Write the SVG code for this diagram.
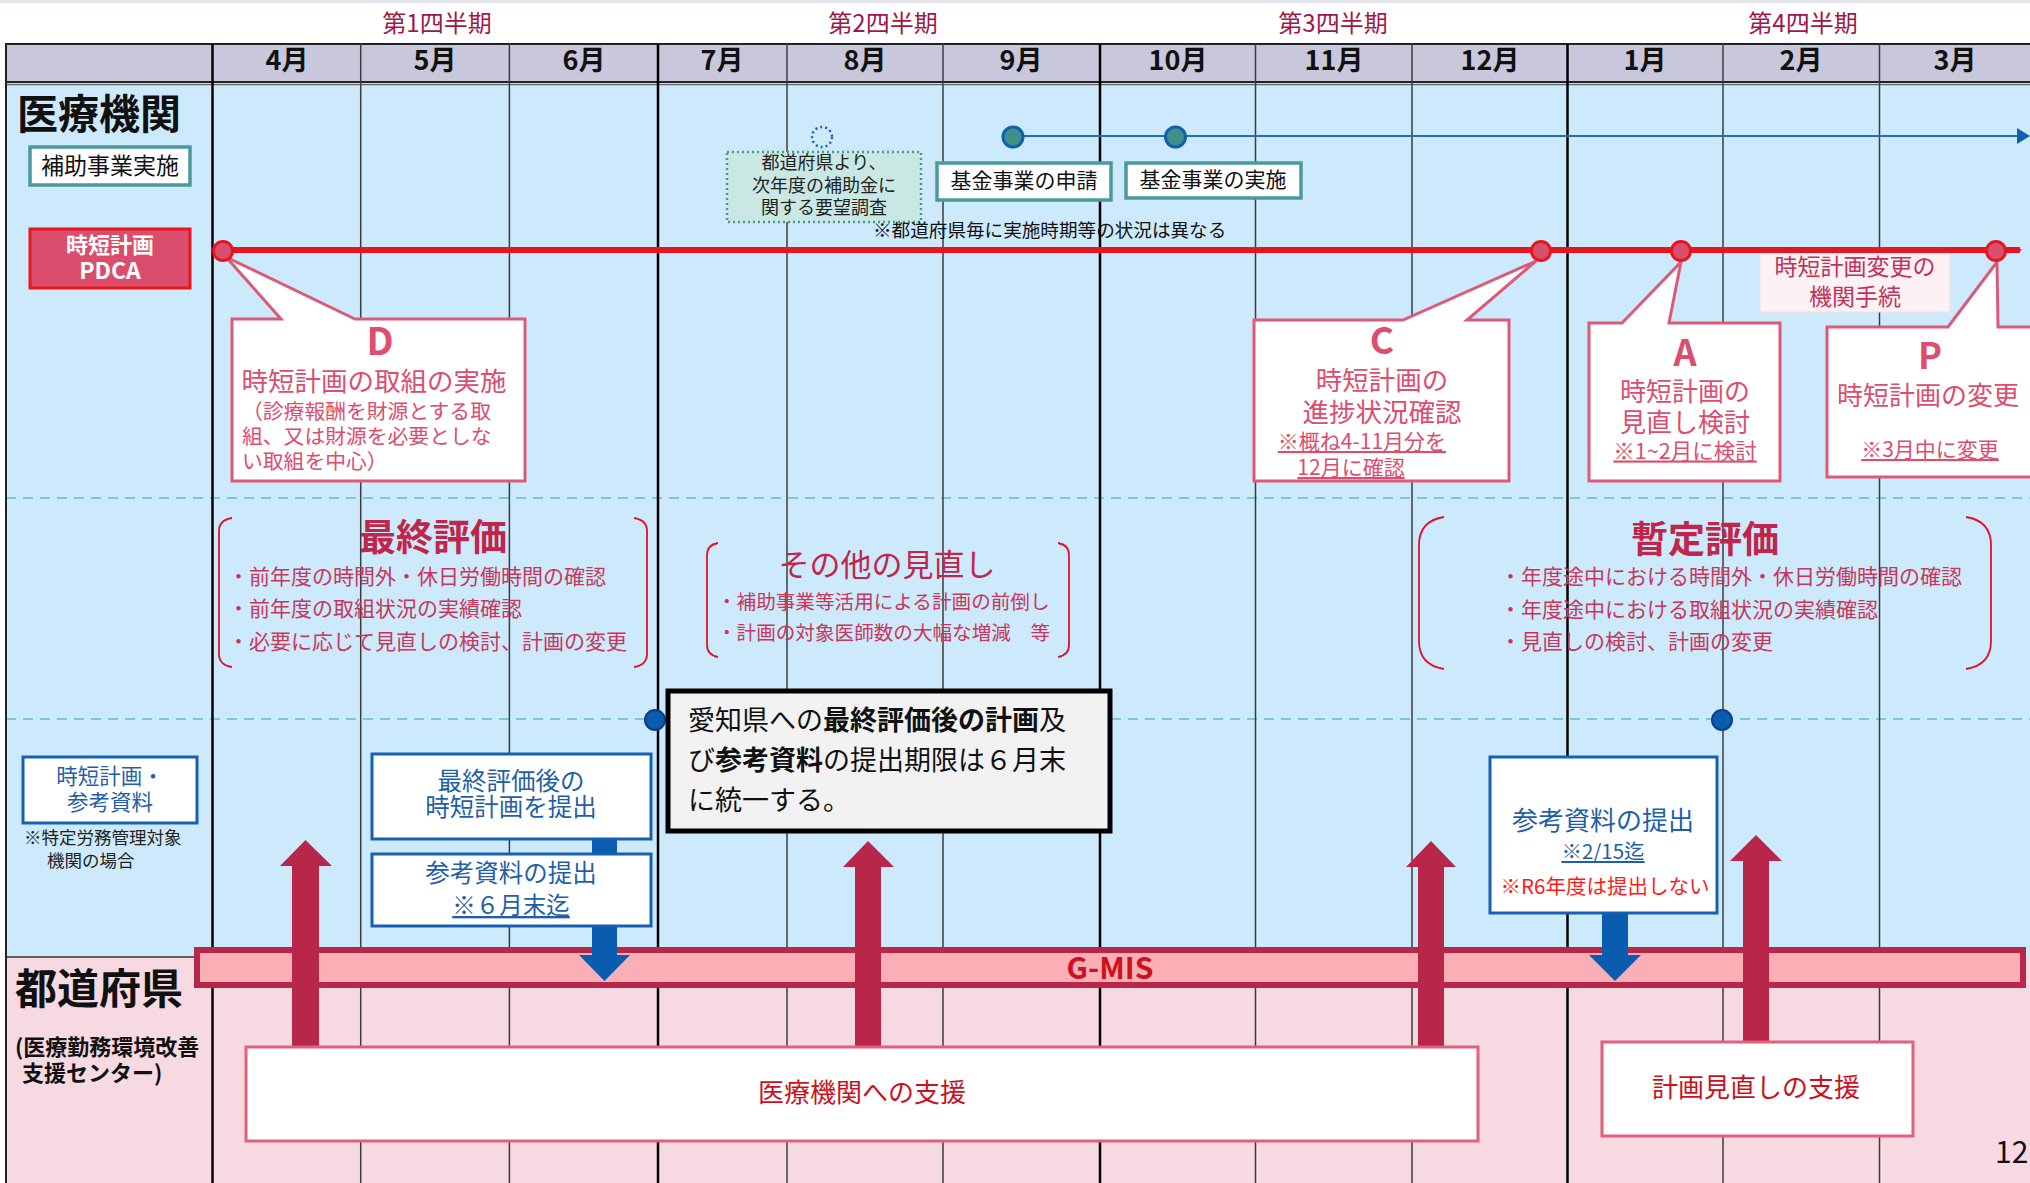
<svg xmlns="http://www.w3.org/2000/svg" width="2030" height="1183" viewBox="0 0 2030 1183">
<style>
text{font-family:"Noto Sans CJK JP","Noto Sans",sans-serif;dominant-baseline:central;transform:translateY(-2px)}
.q{font-size:24px;fill:#a0174a;text-anchor:middle}
.m{font-size:27px;font-weight:700;fill:#111;text-anchor:middle}
.vl{stroke:#3c3c3c;stroke-width:1.5}
.vq{stroke:#000;stroke-width:2.5}
.teal{fill:#fff;stroke:#4a9a9a;stroke-width:3.5}
.call{fill:#fff;stroke:#dc5a78;stroke-width:3}
.ct{fill:#dc4d6e;text-anchor:middle}
.ctb{fill:#dc4d6e;text-anchor:middle;font-weight:700}
.br{fill:none;stroke:#e0102a;stroke-width:1.8}
.bt{fill:#c0254a;font-weight:700;font-size:37px;text-anchor:middle}
.bl{fill:#c8365a;font-size:21px}
.bluebox{fill:#fff;stroke:#1560b0;stroke-width:3}
.bt2{fill:#1f5fa8;text-anchor:middle}
.sup{fill:#fff;stroke:#e0607e;stroke-width:3}
.supt{fill:#cc1020;font-size:26px;text-anchor:middle}
.red{fill:#b8264a}
.blu{fill:#0a5cb0}
.pc{fill:#d94f6e;stroke:#e8141e;stroke-width:3}
.dash{stroke:#7ccaca;stroke-width:2;stroke-dasharray:10 7}
</style>
<defs>
<marker id="ra" markerWidth="4" markerHeight="4" refX="2" refY="2" orient="auto" markerUnits="userSpaceOnUse" viewBox="0 0 4 4"><path d="M0,0 L4,2 L0,4 Z" fill="#e8141e"/></marker>
</defs>
<rect x="0" y="0" width="2030" height="1183" fill="#fff"/>
<rect x="0" y="0" width="2030" height="3" fill="#e4e4ee"/>
<g id="background">
<rect x="6" y="85" width="2030" height="872" fill="#cdeafc"/>
<rect x="6" y="957" width="2030" height="226" fill="#f7d9e1"/>
<line x1="6" y1="957" x2="212" y2="957" stroke="#333" stroke-width="1.5"/>
<line class="dash" x1="6" y1="498" x2="2030" y2="498"/>
<line class="dash" x1="6" y1="719" x2="2030" y2="719"/>
</g>
<g id="header">
<rect x="6" y="44" width="2030" height="38" fill="#c9c7dc" stroke="#222" stroke-width="2"/>
<line x1="6" y1="84.5" x2="2030" y2="84.5" stroke="#666" stroke-width="1.5"/>
<text class="q" x="437" y="23">第1四半期</text>
<text class="q" x="883" y="23">第2四半期</text>
<text class="q" x="1333" y="23">第3四半期</text>
<text class="q" x="1803" y="23">第4四半期</text>
<text class="m" x="287" y="60">4月</text>
<text class="m" x="435" y="60">5月</text>
<text class="m" x="584" y="60">6月</text>
<text class="m" x="722" y="60">7月</text>
<text class="m" x="865" y="60">8月</text>
<text class="m" x="1021" y="60">9月</text>
<text class="m" x="1178" y="60">10月</text>
<text class="m" x="1334" y="60">11月</text>
<text class="m" x="1490" y="60">12月</text>
<text class="m" x="1645" y="60">1月</text>
<text class="m" x="1801" y="60">2月</text>
<text class="m" x="1955" y="60">3月</text>
</g>
<g id="grid">
<line x1="6" y1="44" x2="6" y2="1183" stroke="#222" stroke-width="2"/>
<line class="vq" x1="212.5" y1="44" x2="212.5" y2="1183"/>
<line class="vl" x1="360.7" y1="44" x2="360.7" y2="1183"/>
<line class="vl" x1="509.4" y1="44" x2="509.4" y2="1183"/>
<line class="vq" x1="658" y1="44" x2="658" y2="1183"/>
<line class="vl" x1="787" y1="44" x2="787" y2="1183"/>
<line class="vl" x1="943" y1="44" x2="943" y2="1183"/>
<line class="vq" x1="1100" y1="44" x2="1100" y2="1183"/>
<line class="vl" x1="1255.5" y1="44" x2="1255.5" y2="1183"/>
<line class="vl" x1="1412" y1="44" x2="1412" y2="1183"/>
<line class="vq" x1="1567.5" y1="44" x2="1567.5" y2="1183"/>
<line class="vl" x1="1723" y1="44" x2="1723" y2="1183"/>
<line class="vl" x1="1879.5" y1="44" x2="1879.5" y2="1183"/>
</g>
<g id="row-labels">
<text x="17" y="113" font-size="41" font-weight="700" fill="#111">医療機関</text>
<text x="15" y="987" font-size="42" font-weight="700" fill="#111">都道府県</text>
<text x="15" y="1047" font-size="22" font-weight="700" fill="#111">(医療勤務環境改善</text>
<text x="22" y="1073" font-size="22" font-weight="700" fill="#111">支援センター)</text>
</g>
<g id="node-hojo">
<rect class="teal" x="30" y="147" width="160" height="38"/>
<text x="110" y="166" font-size="23" fill="#111" text-anchor="middle">補助事業実施</text>
</g>
<g id="node-pdca">
<rect x="30" y="229" width="160" height="59" fill="#db4d6d" stroke="#e8141e" stroke-width="3"/>
<text x="110" y="245" font-size="22" font-weight="700" fill="#fff" text-anchor="middle">時短計画</text>
<text x="110" y="271" font-size="23" font-weight="700" fill="#fff" text-anchor="middle">PDCA</text>
</g>
<g id="node-youbou">
<circle cx="822" cy="137" r="10" fill="none" stroke="#1a60b8" stroke-width="2.5" stroke-dasharray="2 3"/>
<rect x="727" y="152" width="194" height="70" fill="#c9e8e4" stroke="#4a9a8a" stroke-width="2.5" stroke-dasharray="2 3"/>
<text x="824" y="163" font-size="18" fill="#222" text-anchor="middle">都道府県より、</text>
<text x="824" y="186" font-size="18" fill="#222" text-anchor="middle">次年度の補助金に</text>
<text x="824" y="208" font-size="18" fill="#222" text-anchor="middle">関する要望調査</text>
</g>
<g id="node-kikin-shinsei">
<rect class="teal" x="937" y="163" width="174" height="37"/>
<text x="1024" y="181" font-size="21" fill="#111" text-anchor="middle">基金事業の申請</text>
</g>
<g id="node-kikin-jisshi">
<rect class="teal" x="1126" y="163" width="175" height="35"/>
<text x="1213" y="180" font-size="21" fill="#111" text-anchor="middle">基金事業の実施</text>
</g>
<text id="note-jiki" x="873" y="230" font-size="18.6" fill="#111">※都道府県毎に実施時期等の状況は異なる</text>
<g id="node-D">
<path class="call" d="M232,319 L281,319 L226,257 L355,319 L525,319 L525,481 L232,481 Z"/>
<text class="ctb" x="380" y="340" font-size="38">D</text>
<text class="ct" x="374" y="381" font-size="26.5">時短計画の取組の実施</text>
<text x="242" y="412" font-size="20.8" fill="#dc4d6e">（診療報酬を財源とする取</text>
<text x="242" y="437" font-size="20.8" fill="#dc4d6e">組、又は財源を必要としな</text>
<text x="242" y="462" font-size="20.8" fill="#dc4d6e">い取組を中心）</text>
</g>
<g id="node-C">
<path class="call" d="M1254,320 L1403,320 L1536,261 L1467,320 L1509,320 L1509,481 L1254,481 Z"/>
<text class="ctb" x="1382" y="340" font-size="37">C</text>
<text class="ct" x="1382" y="380" font-size="26.5">時短計画の</text>
<text class="ct" x="1382" y="412" font-size="26.5">進捗状況確認</text>
<text class="ct" x="1362" y="442" font-size="21" text-decoration="underline">※概ね4-11月分を</text>
<text class="ct" x="1351" y="468" font-size="21" text-decoration="underline">12月に確認</text>
</g>
<g id="node-A">
<path class="call" d="M1589,323 L1622,323 L1681,262 L1669,323 L1780,323 L1780,481 L1589,481 Z"/>
<text class="ctb" x="1685" y="352" font-size="36">A</text>
<text class="ct" x="1685" y="391" font-size="26">時短計画の</text>
<text class="ct" x="1685" y="422" font-size="26">見直し検討</text>
<text class="ct" x="1685" y="451" font-size="21.5" text-decoration="underline">※1~2月に検討</text>
</g>
<g id="node-P">
<path class="call" d="M1827,327 L1948,327 L1997,262 L1998,327 L2040,327 L2040,477 L1827,477 Z"/>
<text class="ctb" x="1930" y="355" font-size="36">P</text>
<text class="ct" x="1928" y="395" font-size="26">時短計画の変更</text>
<text class="ct" x="1930" y="450" font-size="21" text-decoration="underline">※3月中に変更</text>
</g>
<g id="node-tetsuzuki">
<rect x="1760" y="253" width="190" height="59" fill="#fdf1f3" stroke="#f8dde3" stroke-width="1"/>
<text x="1855" y="267" font-size="23" fill="#c0325a" text-anchor="middle">時短計画変更の</text>
<text x="1855" y="297" font-size="23" fill="#c0325a" text-anchor="middle">機関手続</text>
</g>
<g id="node-saishu">
<path class="br" d="M232,518 Q219,520 219,531 L219,654 Q219,665 232,667"/>
<path class="br" d="M634,518 Q647,520 647,531 L647,654 Q647,665 634,667"/>
<text class="bt" x="433" y="537">最終評価</text>
<text class="bl" x="228" y="577">・前年度の時間外・休日労働時間の確認</text>
<text class="bl" x="228" y="609">・前年度の取組状況の実績確認</text>
<text class="bl" x="228" y="642">・必要に応じて見直しの検討、計画の変更</text>
</g>
<g id="node-sonota">
<path class="br" d="M718,543 Q707,545 707,555 L707,645 Q707,655 718,657"/>
<path class="br" d="M1058,543 Q1069,545 1069,555 L1069,645 Q1069,655 1058,657"/>
<text x="887" y="564" font-size="31" fill="#c0254a" text-anchor="middle">その他の見直し</text>
<text x="717" y="602" font-size="19.6" fill="#c8365a">・補助事業等活用による計画の前倒し</text>
<text x="717" y="633" font-size="19.6" fill="#c8365a">・計画の対象医師数の大幅な増減　等</text>
</g>
<g id="node-zantei">
<path class="br" d="M1444,517 Q1419,521 1419,545 L1419,641 Q1419,665 1444,669"/>
<path class="br" d="M1966,517 Q1991,521 1991,545 L1991,641 Q1991,665 1966,669"/>
<text class="bt" x="1705" y="539">暫定評価</text>
<text class="bl" x="1500" y="577">・年度途中における時間外・休日労働時間の確認</text>
<text class="bl" x="1500" y="610">・年度途中における取組状況の実績確認</text>
<text class="bl" x="1500" y="642">・見直しの検討、計画の変更</text>
</g>
<g id="node-sanko-left">
<rect class="bluebox" x="23" y="757" width="174" height="66"/>
<text class="bt2" x="110" y="776" font-size="21.5">時短計画・</text>
<text class="bt2" x="110" y="802" font-size="21.5">参考資料</text>
<text x="24" y="838" font-size="17.5" fill="#222">※特定労務管理対象</text>
<text x="47" y="861" font-size="17.5" fill="#222">機関の場合</text>
</g>
<g id="node-gmis">
<rect x="197" y="950" width="1826" height="35" fill="#f9afb5" stroke="#b8264a" stroke-width="6"/>
</g>
<g id="connectors">
<line x1="223" y1="250" x2="2020" y2="250" stroke="#e8141e" stroke-width="6" marker-end="url(#ra)"/>
<line x1="1013" y1="136" x2="2018" y2="136" stroke="#1f6fbf" stroke-width="2"/>
<path d="M2017,128 L2030,136 L2017,144 Z" fill="#1060b0"/>
<path class="red" d="M292,1046 L292,866 L280,866 L305.5,840 L332,866 L319,866 L319,1046 Z"/>
<path class="red" d="M855,1046 L855,867 L843,867 L868,841 L894,867 L881,867 L881,1046 Z"/>
<path class="red" d="M1418,1046 L1418,867 L1406,867 L1431,841 L1456,867 L1444,867 L1444,1046 Z"/>
<path class="red" d="M1743,1041 L1743,861 L1730,861 L1756,835 L1782,861 L1769,861 L1769,1041 Z"/>
<rect class="blu" x="592" y="838" width="25" height="17"/>
<path class="blu" d="M592,925 L617,925 L617,955 L630,955 L604.5,981 L579,955 L592,955 Z"/>
<path class="blu" d="M1602,913 L1628,913 L1628,955 L1641,955 L1615,981 L1589,955 L1602,955 Z"/>
</g>
<g id="gmis-label">
<text x="1110" y="968" font-size="30" font-weight="700" fill="#d0101a" text-anchor="middle">G-MIS</text>
</g>
<g id="pdca-points">
<circle class="pc" cx="223" cy="251" r="9.5"/>
<circle class="pc" cx="1541" cy="251" r="9.5"/>
<circle class="pc" cx="1681" cy="251" r="9.5"/>
<circle class="pc" cx="1996" cy="251" r="9.5"/>
<circle cx="1013" cy="137" r="10" fill="#3e9088" stroke="#1060b0" stroke-width="3"/>
<circle cx="1175.5" cy="137" r="10" fill="#3e9088" stroke="#1060b0" stroke-width="3"/>
<circle cx="655" cy="720" r="10" fill="#0a5cb0" stroke="#0a3e8a" stroke-width="2"/>
<circle cx="1722" cy="720" r="10" fill="#0a5cb0" stroke="#0a3e8a" stroke-width="2"/>
</g>
<g id="node-saishu-teishutsu">
<rect class="bluebox" x="372" y="754" width="279" height="85"/>
<text class="bt2" x="511" y="781" font-size="24.5">最終評価後の</text>
<text class="bt2" x="511" y="807" font-size="24.5">時短計画を提出</text>
</g>
<g id="node-sanko-6">
<rect class="bluebox" x="372" y="854" width="279" height="72"/>
<text class="bt2" x="511" y="873" font-size="24.5">参考資料の提出</text>
<text class="bt2" x="511" y="906" font-size="23.5" text-decoration="underline">※６月末迄</text>
</g>
<g id="node-notice">
<rect x="668" y="691" width="442" height="140" fill="#f2f2f2" stroke="#000" stroke-width="5"/>
<text x="688" y="720" font-size="27" fill="#111">愛知県への<tspan font-weight="700">最終評価後の計画</tspan>及</text>
<text x="688" y="760" font-size="27" fill="#111">び<tspan font-weight="700">参考資料</tspan>の提出期限は６月末</text>
<text x="688" y="800" font-size="27" fill="#111">に統一する。</text>
</g>
<g id="node-sanko-215">
<rect class="bluebox" x="1490" y="757" width="227" height="156"/>
<text class="bt2" x="1603" y="820" font-size="26">参考資料の提出</text>
<text class="bt2" x="1603" y="852" font-size="20.5" text-decoration="underline">※2/15迄</text>
<text x="1605" y="887" font-size="20.5" fill="#ff1a1a" text-anchor="middle">※R6年度は提出しない</text>
</g>
<g id="node-shien">
<rect class="sup" x="246" y="1047" width="1232" height="94"/>
<text class="supt" x="862" y="1092">医療機関への支援</text>
</g>
<g id="node-minaoshi-shien">
<rect class="sup" x="1602" y="1042" width="311" height="94"/>
<text class="supt" x="1756" y="1087">計画見直しの支援</text>
</g>
<text id="page-no" x="1995" y="1152" font-size="30" fill="#111" font-family="Liberation Sans, sans-serif">12</text>
</svg>
